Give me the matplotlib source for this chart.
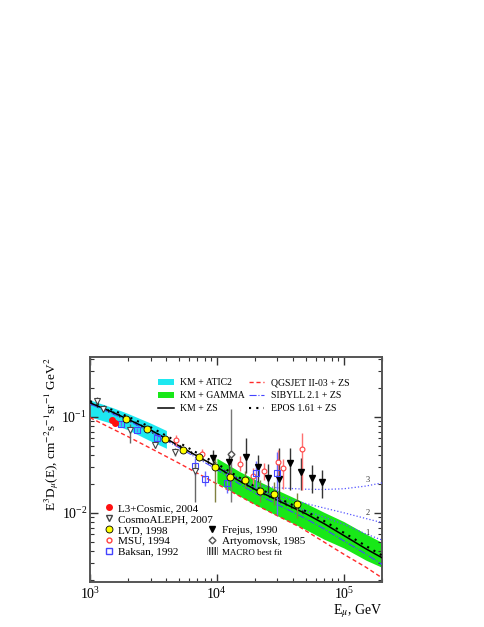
import numpy as np
import matplotlib
matplotlib.use('Agg')
import matplotlib.pyplot as plt
from matplotlib.lines import Line2D
from matplotlib.patches import Patch

plt.rcParams['font.family'] = ['Liberation Serif', 'DejaVu Serif']
plt.rcParams['mathtext.fontset'] = 'stix'

# ---------------- model curves ----------------
E_km = [1e3, 1.5e3, 2e3, 3e3, 5e3, 7e3, 1e4, 1.5e4, 2e4, 3e4, 5e4, 7e4, 1e5, 1.5e5, 2e5]
km_zs = [0.140, 0.112, 0.094, 0.073, 0.050, 0.039, 0.030, 0.0215, 0.0175, 0.0135, 0.0098, 0.0077, 0.0058, 0.0042, 0.0034]
epos = [0.146, 0.118, 0.100, 0.078, 0.054, 0.042, 0.0325, 0.0233, 0.0188, 0.0144, 0.0104, 0.0082, 0.0062, 0.0045, 0.0036]
sibyll = [0.136, 0.108, 0.091, 0.070, 0.048, 0.037, 0.0283, 0.0200, 0.0160, 0.0122, 0.0087, 0.0068, 0.0051, 0.0037, 0.0029]

E_qgs = [1e3, 2e3, 3e3, 5e3, 1e4, 2e4, 4.5e4, 1e5, 1.5e5, 2e5]
qgsjet = [0.098, 0.062, 0.047, 0.033, 0.020, 0.0122, 0.0071, 0.0037, 0.0027, 0.0021]

E_atic = [1e3, 1.5e3, 2e3, 3e3, 4e3]
atic_hi = [0.150, 0.125, 0.108, 0.086, 0.072]
atic_lo = [0.100, 0.085, 0.073, 0.056, 0.047]

E_gamma = [1e4, 1.5e4, 2e4, 3e4, 5e4, 7e4, 1e5, 1.5e5, 2e5]
gamma_hi = [0.037, 0.027, 0.0222, 0.0172, 0.0126, 0.0101, 0.0081, 0.0060, 0.0049]
gamma_lo = [0.0205, 0.0150, 0.0122, 0.0093, 0.0067, 0.0053, 0.0043, 0.0032, 0.0027]

E_macro = [1e3, 2e3, 5e3, 1e4, 2e4, 5e4]
macro_hi = [0.146, 0.098, 0.052, 0.0313, 0.0183, 0.0103]
macro_lo = [0.134, 0.090, 0.048, 0.0288, 0.0168, 0.0094]

E_p3 = [1e4, 1.5e4, 2e4, 3e4, 5e4, 7e4, 1e5, 1.5e5, 2e5]
prompt3 = [0.0305, 0.0225, 0.0195, 0.0182, 0.0176, 0.0175, 0.0178, 0.0190, 0.0205]
E_p12 = [1e4, 2e4, 3e4, 5e4, 1e5, 1.5e5, 2e5]
prompt2 = [0.0302, 0.0180, 0.0150, 0.0125, 0.0100, 0.0087, 0.0079]
prompt1 = [0.0301, 0.0177, 0.0140, 0.0105, 0.0076, 0.0060, 0.0052]
curve_labels = ['1', '2', '3']
label_E = 1.545e5
label_y = [0.0062, 0.0100, 0.0221]

# ---------------- data ----------------
l3_E = [1.48e3, 1.58e3]
l3_y = [0.092, 0.087]
l3_lo = [0.089, 0.084]
l3_hi = [0.095, 0.090]

aleph_E = [1.13e3, 1.27e3, 2.07e3, 3.25e3, 4.67e3, 6.7e3]
aleph_y = [0.147, 0.121, 0.073, 0.051, 0.043, 0.027]
aleph_lo = [0.140, 0.115, 0.0535, 0.047, 0.039, 0.013]
aleph_hi = [0.160, 0.127, 0.085, 0.055, 0.047, 0.033]

lvd_E = [1.92e3, 2.81e3, 3.9e3, 5.4e3, 7.2e3, 9.6e3, 12.7e3, 16.6e3, 21.8e3, 28.1e3, 42.7e3]
lvd_y = [0.0953, 0.075, 0.059, 0.0453, 0.0383, 0.0301, 0.0237, 0.0221, 0.0169, 0.0158, 0.0124]
lvd_lo = [0.091, 0.071, 0.056, 0.043, 0.035, 0.013, 0.020, 0.018, 0.013, 0.012, 0.0089]
lvd_hi = [0.100, 0.079, 0.062, 0.048, 0.042, 0.037, 0.028, 0.027, 0.022, 0.021, 0.0162]

msu_E = [4.75e3, 7.6e3, 15.2e3, 19.2e3, 23.4e3, 30.2e3, 33e3, 46.7e3]
msu_y = [0.0575, 0.041, 0.0324, 0.0243, 0.0274, 0.0335, 0.029, 0.0464]
msu_lo = [0.050, 0.036, 0.027, 0.020, 0.022, 0.025, 0.0175, 0.0174]
msu_hi = [0.065, 0.046, 0.039, 0.029, 0.033, 0.045, 0.036, 0.068]

baksan_E = [1.75e3, 2.34e3, 3.37e3, 6.7e3, 8.05e3, 12.0e3, 20.3e3, 29.7e3]
baksan_y = [0.085, 0.073, 0.060, 0.031, 0.0226, 0.0206, 0.026, 0.026]
baksan_lo = [0.080, 0.069, 0.056, 0.025, 0.019, 0.016, 0.018, 0.0095]
baksan_hi = [0.090, 0.077, 0.064, 0.037, 0.027, 0.026, 0.035, 0.043]

frejus_E = [9.3e3, 12.5e3, 16.9e3, 21.0e3, 25.3e3, 30.7e3, 37.6e3, 45.8e3, 55.8e3, 67.3e3]
frejus_y = [0.037, 0.034, 0.038, 0.030, 0.0232, 0.0226, 0.033, 0.0267, 0.0232, 0.0210]
frejus_lo = [0.030, 0.026, 0.026, 0.021, 0.016, 0.0137, 0.0174, 0.0174, 0.0162, 0.0143]
frejus_hi = [0.045, 0.043, 0.060, 0.040, 0.032, 0.047, 0.0476, 0.0374, 0.0316, 0.0281]

art_E = [12.8e3]
art_y = [0.041]
art_lo = [0.013]
art_hi = [0.12]

# ---------------- figure ----------------
fig = plt.figure(figsize=(4.85, 6.27), dpi=100)
ax = fig.add_axes([90/485, 1-582/627, 292/485, 225/627])
ax.set_xscale('log')
ax.set_yscale('log')
ax.set_xlim(1e3, 2e5)
ax.set_ylim(0.0019, 0.42)

ax.fill_between(E_atic, atic_lo, atic_hi, color='#1ee8f0', lw=0, zorder=1)
ax.fill_between(E_gamma, gamma_lo, gamma_hi, color='#18e818', lw=0, zorder=1)
ax.fill_between(E_macro, macro_lo, macro_hi, facecolor='none', edgecolor='#333333',
                hatch='|||', lw=0, zorder=2)

ax.plot(E_qgs, qgsjet, color='#ff2a2a', ls=(0, (3, 2)), lw=1.0, zorder=3)
ax.plot(E_km, sibyll, color='#4444ff', ls='-.', lw=0.8, zorder=3)
ax.plot(E_km, km_zs, color='black', lw=1.1, zorder=4)
ax.plot(E_km, epos, color='black', ls=(0, (1, 2.5)), lw=1.5, zorder=4)
for yy in (prompt1, prompt2):
    ax.plot(E_p12, yy, color='#5555ff', ls=':', lw=0.9, zorder=3)
ax.plot(E_p3, prompt3, color='#5555ff', ls=':', lw=0.9, zorder=3)
for lab, ly in zip(curve_labels, label_y):
    ax.text(label_E, ly, lab, fontsize=6, ha='center', va='center', color='#333333')


def eb(E, y, lo, hi, **kw):
    y = np.array(y)
    err = [y - np.array(lo), np.array(hi) - y]
    return ax.errorbar(E, y, yerr=err, capsize=0, elinewidth=1.0, linestyle='none', zorder=5, **kw)


eb(art_E, art_y, art_lo, art_hi, fmt='D', ms=3.5, mfc='white', mec='#555555', ecolor='#777777')
eb(frejus_E, frejus_y, frejus_lo, frejus_hi, fmt='v', ms=4, mfc='black', mec='black', ecolor='#333333')
eb(msu_E, msu_y, msu_lo, msu_hi, fmt='o', ms=3.5, mfc='white', mec='#ff4040', ecolor='#ff7070', mew=0.8)
eb(baksan_E, baksan_y, baksan_lo, baksan_hi, fmt='s', ms=4.5, mfc='none', mec='#4444ff', ecolor='#6a6aff', mew=0.8)
eb(aleph_E, aleph_y, aleph_lo, aleph_hi, fmt='v', ms=4, mfc='white', mec='#444444', ecolor='#666666', mew=0.8)
eb(l3_E, l3_y, l3_lo, l3_hi, fmt='o', ms=4, mfc='#ff1010', mec='#ff1010', ecolor='#ff1010')
eb(lvd_E, lvd_y, lvd_lo, lvd_hi, fmt='o', ms=5, mfc='#ffff00', mec='black', mew=0.6, ecolor='#808040')

# axes styling
for sp in ax.spines.values():
    sp.set_linewidth(1.4)
    sp.set_color('#555555')
ax.tick_params(which='both', direction='in', top=True, right=True, colors='#333333')
ax.tick_params(which='major', length=6, width=1.0, labelsize=10, labelcolor='black')
ax.tick_params(which='minor', length=3, width=0.8)
ax.tick_params(axis='x', which='major', pad=3)
ax.tick_params(axis='y', which='major', pad=2)

fig.text(52/485, 1-357/627, r'E$^3$D$_\mu$(E), cm$^{-2}$s$^{-1}$sr$^{-1}$ GeV$^2$',
         rotation=90, ha='center', va='top', fontsize=9.5)
fig.text(382/485, 1-611/627, r'E$_\mu$, GeV', ha='right', va='center', fontsize=10)

# legends
h_top = [Patch(facecolor='#1ee8f0', edgecolor='none'),
         Patch(facecolor='#18e818', edgecolor='none'),
         Line2D([], [], color='black', lw=1.1),
         Line2D([], [], color='#ff2a2a', ls=(0, (3, 2)), lw=1.0),
         Line2D([], [], color='#4444ff', ls='-.', lw=0.8),
         Line2D([], [], color='black', ls=(0, (1, 2.5)), lw=1.5)]
l_top = ['KM + ATIC2', 'KM + GAMMA', 'KM + ZS', 'QGSJET II-03 + ZS', 'SIBYLL 2.1 + ZS', 'EPOS 1.61 + ZS']
leg1 = ax.legend(h_top, l_top, ncol=2, loc='upper left', bbox_to_anchor=(0.233, 0.905),
                 frameon=False, fontsize=7, handlelength=1.6, handleheight=0.6, handletextpad=0.7,
                 columnspacing=0.35, labelspacing=0.4, borderpad=0, borderaxespad=0)
ax.add_artist(leg1)

blank = Line2D([], [], ls='none')
h_bot = [Line2D([], [], ls='none', marker='o', ms=4, mfc='#ff1010', mec='#ff1010'),
         Line2D([], [], ls='none', marker='v', ms=4, mfc='white', mec='#444444'),
         Line2D([], [], ls='none', marker='o', ms=5, mfc='#ffff00', mec='black', mew=0.6),
         Line2D([], [], ls='none', marker='o', ms=3.5, mfc='white', mec='#ff4040'),
         Line2D([], [], ls='none', marker='s', ms=4.5, mfc='none', mec='#4444ff'),
         blank, blank,
         Line2D([], [], ls='none', marker='v', ms=4, mfc='black', mec='black'),
         Line2D([], [], ls='none', marker='D', ms=3.5, mfc='white', mec='#555555'),
         Patch(facecolor='none', edgecolor='#333333', hatch='||||||', lw=0)]
l_bot = ['L3+Cosmic, 2004', 'CosmoALEPH, 2007', 'LVD, 1998', 'MSU, 1994', 'Baksan, 1992',
         '', '', 'Frejus, 1990', 'Artyomovsk, 1985', 'MACRO best fit']
leg2 = ax.legend(h_bot, l_bot, ncol=2, loc='upper left', bbox_to_anchor=(0.046, 0.350),
                 frameon=False, fontsize=8, handlelength=1.0, handleheight=0.7, handletextpad=0.35,
                 columnspacing=-0.6, labelspacing=0.1, borderpad=0, borderaxespad=0)
leg2.get_texts()[-1].set_fontsize(6.5)

fig.savefig('out.png', dpi=100)
